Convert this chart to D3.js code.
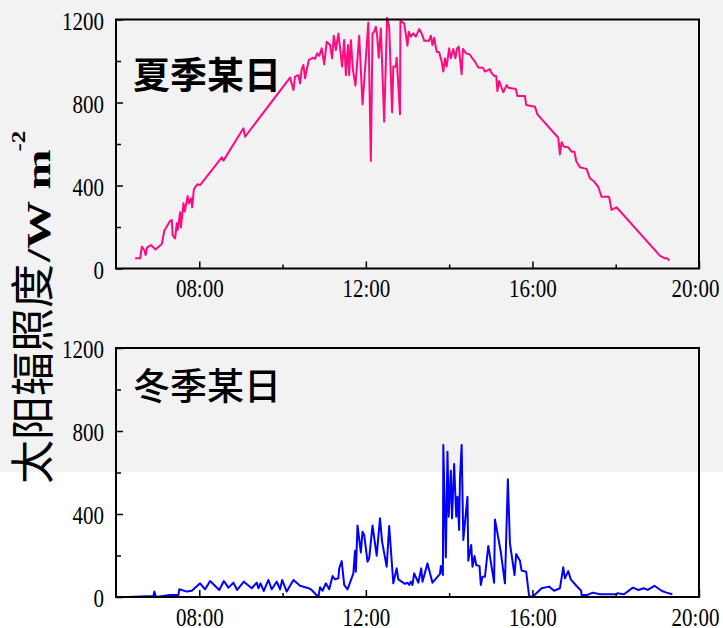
<!DOCTYPE html>
<html>
<head>
<meta charset="utf-8">
<script src="https://cdn.jsdelivr.net/npm/d3@7/dist/d3.min.js"></script>
<style>
  html, body { margin: 0; padding: 0; background: #fff; }
  svg { display: block; }
</style>
</head>
<body>
<svg id="chart"></svg>
<script>
// hours of day (decimal) and W m-2
var summerTime = [6.46,6.58,6.62,6.68,6.71,6.75,6.84,6.95,7.10,7.16,7.30,7.34,7.36,7.42,7.46,7.48,7.54,7.56,7.62,7.65,
  7.72,7.75,7.80,7.83,7.87,7.91,7.96,8.02,8.54,8.58,9.06,9.10,10.18,10.26,10.30,10.38,10.42,10.46,10.50,10.54,
  10.58,10.63,10.74,10.78,10.83,10.88,10.94,11.00,11.06,11.14,11.19,11.23,11.28,11.34,11.39,11.43,11.48,11.52,11.57,11.60,
  11.64,11.69,11.75,11.84,11.92,12.06,12.12,12.16,12.20,12.24,12.27,12.31,12.36,12.44,12.51,12.56,12.63,12.66,12.72,12.74,
  12.82,12.83,12.92,13.00,13.03,13.08,13.14,13.20,13.28,13.34,13.40,13.52,13.56,13.60,13.64,13.70,13.76,13.82,13.86,13.90,
  13.94,14.00,14.04,14.10,14.15,14.19,14.23,14.30,14.33,14.41,14.49,14.54,14.62,14.70,14.81,14.86,14.98,15.01,15.08,15.13,
  15.16,15.20,15.26,15.30,15.38,15.42,15.60,15.64,15.82,15.85,16.06,16.12,16.62,16.66,16.70,16.76,16.86,16.94,17.01,17.05,
  17.14,17.30,17.38,17.46,17.58,17.66,17.84,17.90,18.02,19.06,19.18,19.24,19.29];
var summerValue = [49,49,105,89,65,102,113,92,118,182,230,234,161,145,218,185,271,198,314,274,
  349,314,338,295,382,394,406,402,536,520,676,635,920,860,925,932,892,961,981,917,
  957,1005,1016,1010,1037,1025,1061,984,1093,1077,1013,1122,1053,1133,1045,973,1101,932,1077,932,
  1101,957,881,1122,791,1186,518,1133,1141,1165,1125,1016,1157,707,1209,1165,753,973,973,1016,
  743,1193,1181,1074,1141,1117,1133,1117,1154,1133,1098,1098,1122,1077,1112,1045,1042,997,949,1013,
  973,1061,1013,1058,1013,1061,1069,936,1058,1037,1032,1018,997,969,968,949,961,945,928,928,
  855,904,871,849,884,871,865,831,831,788,780,743,630,550,608,587,584,563,563,518,
  488,480,435,423,394,346,346,282,295,62,49,49,38];

var winterTime = [6.30,6.90,6.92,6.96,7.30,7.50,7.52,7.70,7.82,8.02,8.14,8.26,8.48,8.59,8.70,8.82,8.91,9.07,9.26,9.38,
  9.42,9.47,9.55,9.66,9.74,9.86,9.94,9.99,10.10,10.26,10.42,10.54,10.63,10.68,10.86,10.90,10.96,11.04,11.12,11.20,
  11.26,11.34,11.36,11.42,11.48,11.56,11.70,11.74,11.76,11.80,11.88,11.92,11.96,12.04,12.08,12.16,12.26,12.34,12.39,12.50,
  12.56,12.66,12.74,12.78,12.94,13.00,13.04,13.08,13.12,13.16,13.26,13.33,13.36,13.48,13.60,13.78,13.80,13.85,13.86,13.92,
  13.96,13.99,14.04,14.07,14.12,14.17,14.20,14.24,14.26,14.30,14.34,14.44,14.46,14.53,14.56,14.61,14.65,14.73,14.76,14.80,
  14.86,14.94,15.08,15.10,15.24,15.34,15.41,15.46,15.57,15.61,15.70,15.74,15.85,15.92,16.00,16.22,16.40,16.52,16.66,16.74,
  16.78,16.86,16.92,17.06,17.17,17.18,17.32,17.45,17.62,18.01,18.04,18.20,18.41,18.55,18.67,18.77,18.93,19.11,19.22,19.36];
var winterValue = [0,5,26,0,10,10,37,26,30,66,37,77,34,77,45,69,34,74,42,69,
  42,66,29,82,37,74,37,82,26,82,54,47,42,37,0,47,30,66,37,101,
  85,90,138,173,58,37,114,223,122,344,215,315,299,170,186,344,199,379,267,146,
  342,66,138,85,63,69,58,74,58,114,69,138,74,162,69,111,149,106,732,191,
  700,387,609,379,641,387,483,323,572,732,275,483,175,251,146,198,154,149,58,98,
  98,246,69,374,218,66,567,258,106,207,175,127,122,5,0,42,50,30,42,143,
  90,125,85,53,30,10,10,21,13,13,18,13,45,34,42,34,54,29,21,13];

var xMajor = [8, 12, 16, 20];
var xMajorLabels = ["08:00", "12:00", "16:00", "20:00"];
var xMinor = [10, 14, 18];
var yMajor = [0, 400, 800, 1200];
var yMinor = [200, 600, 1000];

var width = 723, height = 628;
var svg = d3.select("#chart").attr("width", width).attr("height", height);

svg.append("rect").attr("width", width).attr("height", height).attr("fill", "#fff");
svg.append("rect").attr("width", width).attr("height", 472).attr("fill", "#f2f2f2");

var x = d3.scaleLinear().domain([6, 20]).range([116, 699]);

function panel(top, bottom, times, values, color, label, weight, labelY) {
  var y = d3.scaleLinear().domain([0, 1200]).range([bottom, top]);
  var g = svg.append("g");

  var line = d3.line()
    .x(function(d, i) { return x(times[i]); })
    .y(function(d) { return y(d); });

  g.append("path")
    .datum(values)
    .attr("d", line)
    .attr("fill", "none")
    .attr("stroke", color)
    .attr("stroke-width", 2)
    .attr("stroke-linejoin", "round");

  // major x ticks with labels
  var xa = g.append("g")
    .attr("transform", "translate(0," + bottom + ")")
    .call(d3.axisBottom(x).tickValues(xMajor).tickSizeInner(-7).tickSizeOuter(0).tickPadding(10)
      .tickFormat(function(d, i) { return xMajorLabels[i]; }))
    .call(style);
  xa.selectAll("text").filter(function(d) { return d == 20; }).attr("dx", -4);
  g.append("g")
    .attr("transform", "translate(0," + bottom + ")")
    .call(d3.axisBottom(x).tickValues(xMinor).tickSizeInner(-4).tickSizeOuter(0).tickFormat(""))
    .call(style);

  g.append("g")
    .attr("transform", "translate(116,0)")
    .call(d3.axisLeft(y).tickValues(yMajor).tickSizeInner(-7).tickSizeOuter(0).tickPadding(12)
      .tickFormat(d3.format("d")))
    .call(style)
    .selectAll("text").attr("dy", "0.4em");
  g.append("g")
    .attr("transform", "translate(116,0)")
    .call(d3.axisLeft(y).tickValues(yMinor).tickSizeInner(-5).tickSizeOuter(0).tickFormat(""))
    .call(style);

  // frame
  g.append("rect")
    .attr("x", 116).attr("y", top)
    .attr("width", 699 - 116).attr("height", bottom - top)
    .attr("fill", "none").attr("stroke", "#000").attr("stroke-width", 2);

  g.append("text")
    .attr("x", 133).attr("y", labelY)
    .attr("font-family", "'Noto Sans CJK SC', sans-serif")
    .attr("font-size", 37)
    .attr("font-weight", weight)
    .attr("fill", "#000")
    .text(label);
}

function style(sel) {
  sel.select(".domain").remove();
  sel.selectAll("line").attr("stroke", "#000").attr("stroke-width", 1.5);
  sel.selectAll("text")
    .attr("font-family", "'Liberation Serif', serif")
    .attr("font-size", 21)
    .attr("transform", "scale(1,1.15)")
    .attr("fill", "#000");
}

panel(19.5, 268.5, summerTime, summerValue, "#ff0a80", "夏季某日", 700, 89);
panel(348, 597, winterTime, winterValue, "#0000ff", "冬季某日", 500, 400);

// y title
svg.append("text")
  .attr("transform", "translate(49,484) rotate(-90)")
  .attr("font-family", "'Noto Sans CJK SC', sans-serif")
  .attr("font-size", 44)
  .attr("fill", "#000")
  .text("太阳辐照度");

var unit = svg.append("text")
  .attr("transform", "translate(50,262) rotate(-90) scale(1,0.72)")
  .attr("font-family", "'Liberation Serif', serif")
  .attr("font-weight", "bold")
  .attr("font-size", 48)
  .attr("fill", "#000");
unit.append("tspan").text("/W m");
unit.append("tspan").attr("font-size", 25).attr("dx", -2).attr("dy", -35).text("-2");
</script>
</body>
</html>
